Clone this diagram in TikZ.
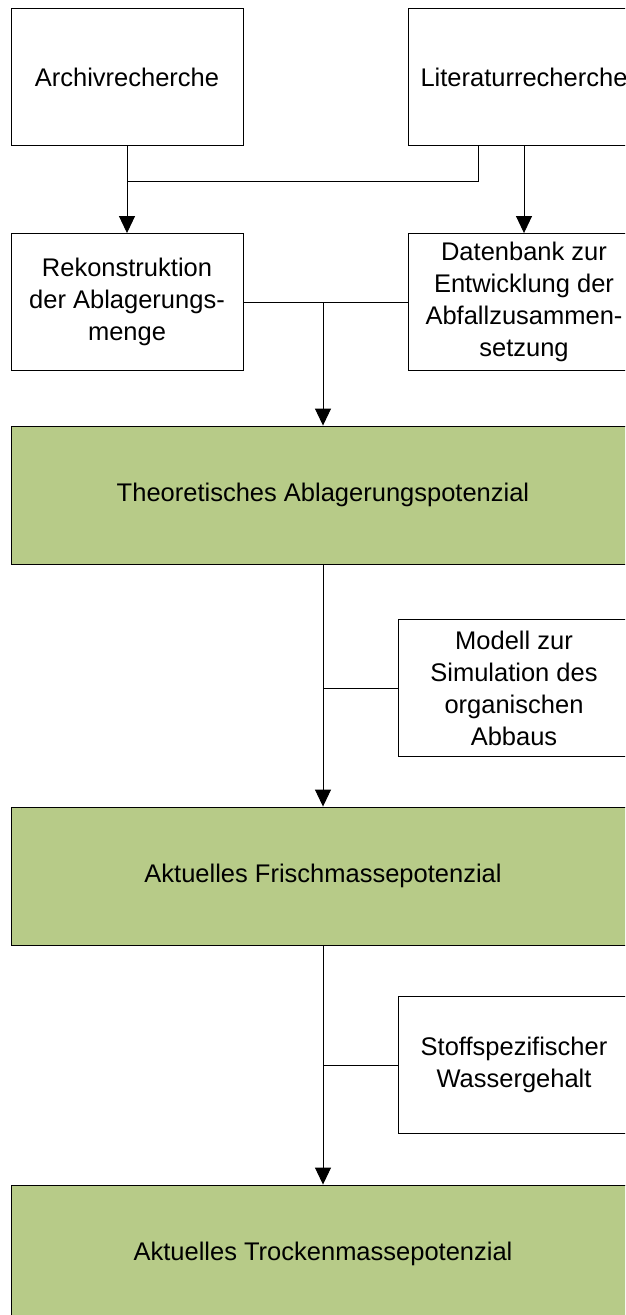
\documentclass[tikz,border=0pt]{standalone}
\usepackage{fontspec}
\setmainfont{Liberation Sans}
\usetikzlibrary{arrows.meta}
\definecolor{potgreen}{RGB}{183,203,136}
\begin{document}
\begin{tikzpicture}[x=1pt,y=-1pt]
		    \tikzset{
   			box/.style={draw, line width=0.9pt, minimum width=232pt, minimum height=137pt, align=center, inner sep=0pt,
   			  font=\fontsize{25.5}{32}\selectfont},
   			potbox/.style={box, fill=potgreen, minimum width=624pt, minimum height=138pt},
    		arc/.style={-{Triangle[length=17pt,width=16pt]}, line width=0.9pt},
    		link/.style={line width=0.9pt}
		    }
		    \clip (0,0) rectangle (625,1315);

   	        \draw node[box] (archiv) at (127,77) {Archivrecherche};
            \draw node[box] (literatur) at (524,77) {Literaturrecherche};
            \draw node[box] (rekon) at (127,302) {Rekonstruktion\\der Ablagerungs-\\menge};
            \draw node[box] (daten) at (524,302) {Datenbank zur\\Entwicklung der\\Abfallzusammen-\\setzung};
            \draw node[potbox] (theo) at (323,495) {Theoretisches Ablagerungspotenzial};
            \draw node[box] (modell) at (514,688) {Modell zur\\Simulation des\\organischen\\Abbaus};
            \draw node[potbox] (frisch) at (323,876) {Aktuelles Frischmassepotenzial};
            \draw node[box] (stoff) at (514,1065) {Stoffspezifischer\\Wassergehalt};
            \draw node[potbox] (trocken) at (323,1254) {Aktuelles Trockenmassepotenzial};

            \coordinate (m1) at (127,181);
            \coordinate (m2) at (323,302);
            \draw[arc] (archiv) -- (rekon);
            \draw[link] ([xshift=-46pt]literatur.south) |- (m1);
            \draw[arc] (literatur) -- (daten);
            \draw[link] (rekon) -- (daten);
            \draw[arc] (m2) -- (theo);
            \draw[arc] (theo) -- (frisch);
            \draw[link] (modell) -- (modell.west -| theo.south);
            \draw[arc] (frisch) -- (trocken);
            \draw[link] (stoff) -- (stoff.west -| frisch.south);
	    \end{tikzpicture}
\end{document}
